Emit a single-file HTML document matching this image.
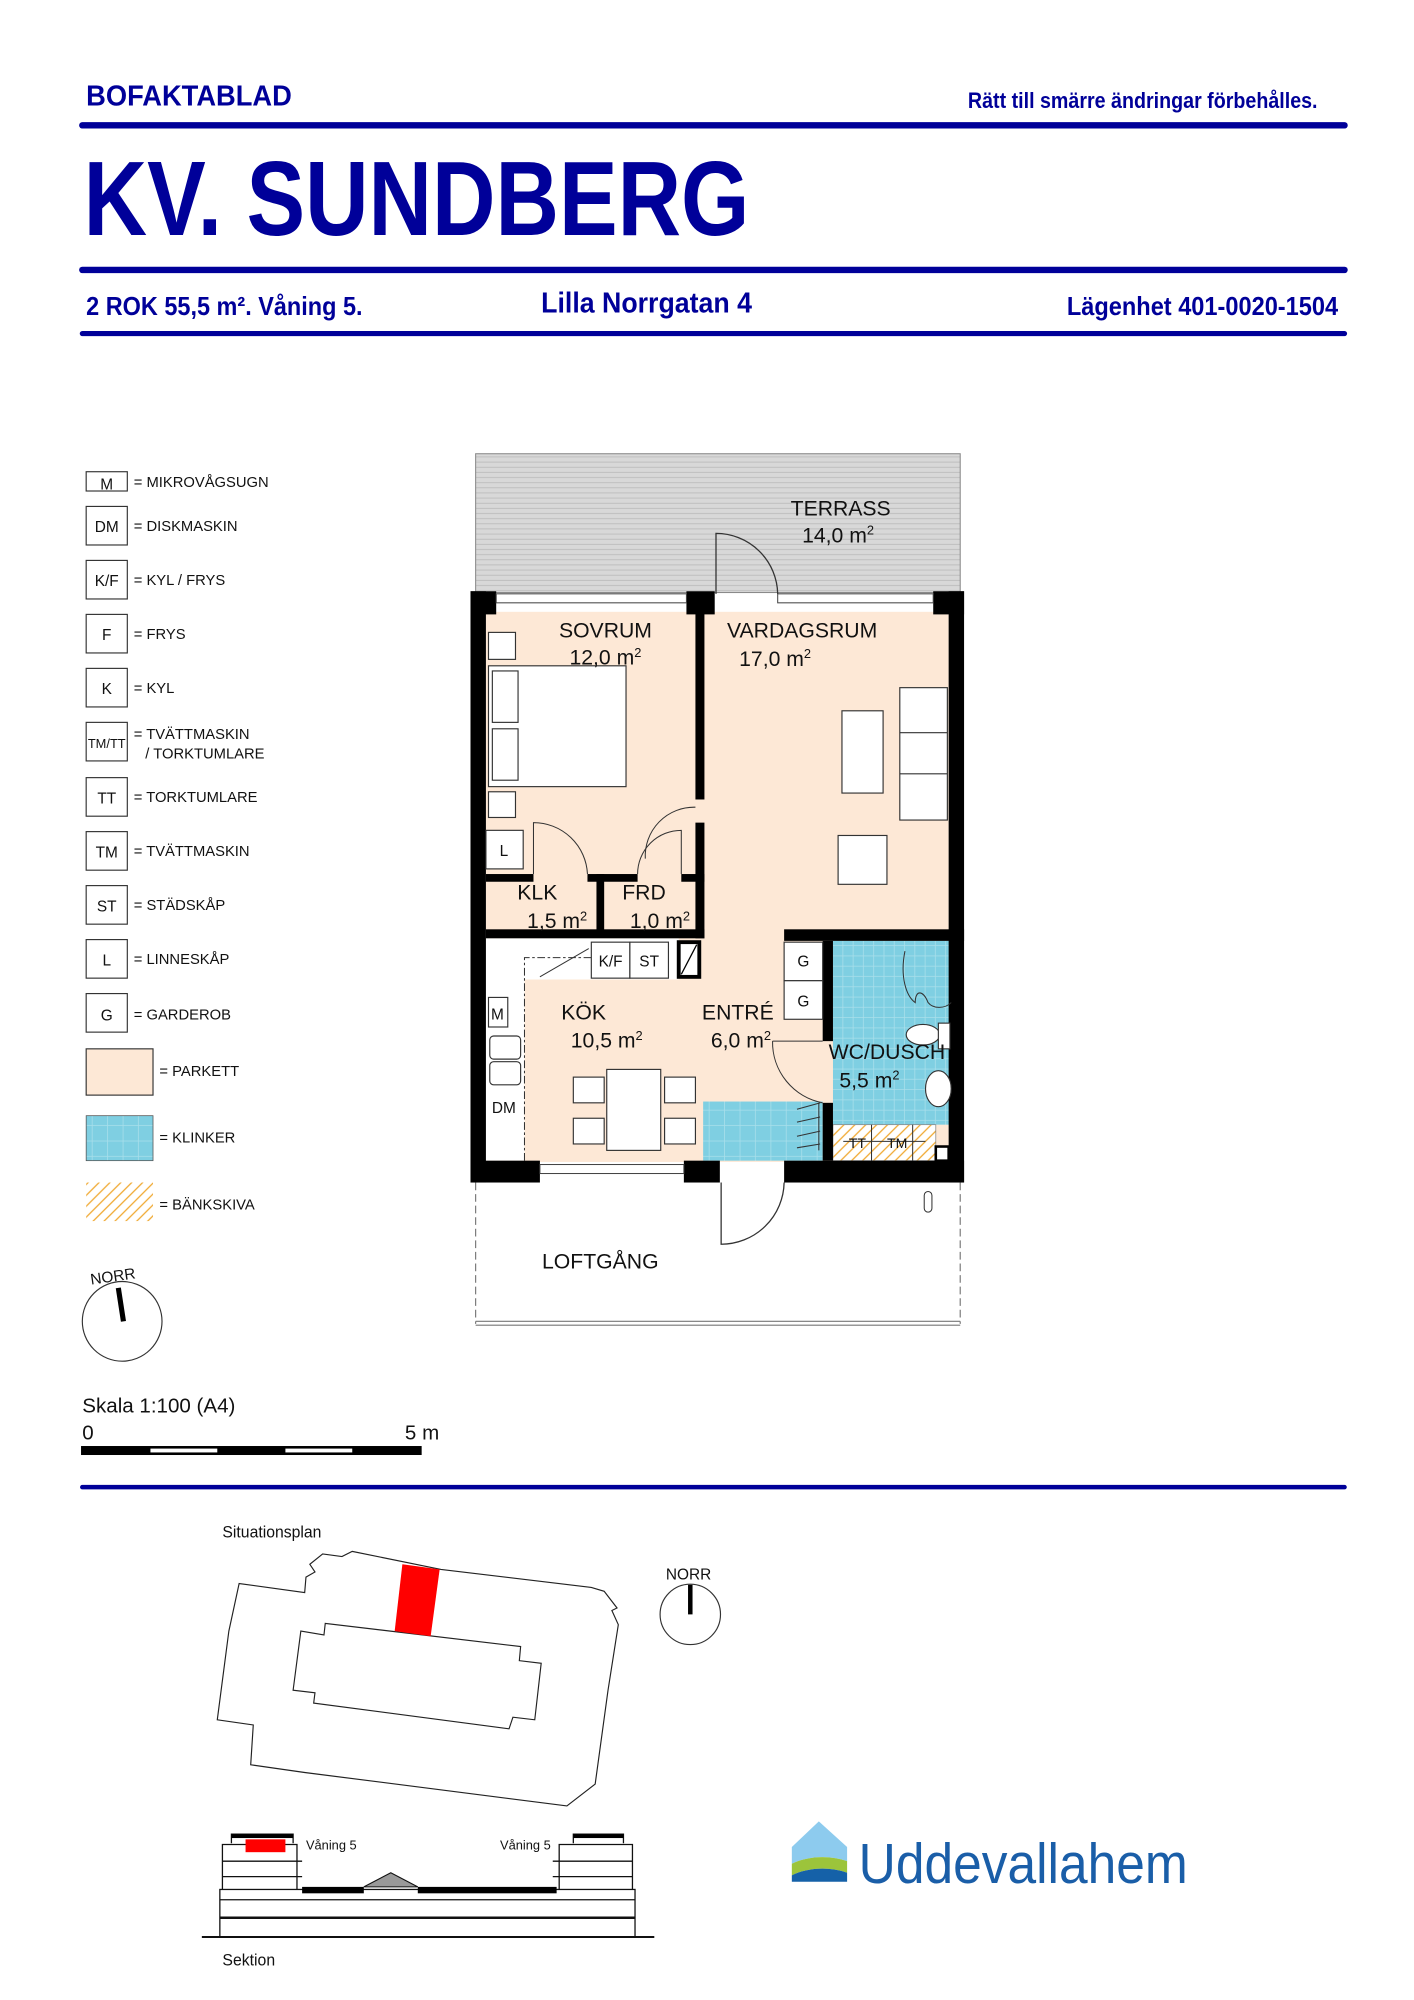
<!DOCTYPE html>
<html><head><meta charset="utf-8"><style>
html,body{margin:0;padding:0;background:#fff}
svg{display:block}
text{font-family:"Liberation Sans",sans-serif}
</style></head><body>
<svg width="1414" height="2000" viewBox="0 0 1100 1556" xmlns="http://www.w3.org/2000/svg">
<defs>
<pattern id="terr" width="10" height="4" patternUnits="userSpaceOnUse"><rect width="10" height="4" fill="#d8d8d8"/><line x1="0" y1="3.5" x2="10" y2="3.5" stroke="#b8b8b8" stroke-width="0.6"/></pattern>
<pattern id="klink" width="8" height="8" patternUnits="userSpaceOnUse"><rect width="8" height="8" fill="#7fcfe2"/><path d="M0 7.7H8M7.7 0V8" stroke="#a9dfeb" stroke-width="0.6"/></pattern>
<pattern id="klinkL" width="12" height="12" patternUnits="userSpaceOnUse"><rect width="12" height="12" fill="#7fcfe2"/><path d="M0 11.7H12M11.7 0V12" stroke="#a9dfeb" stroke-width="0.6"/></pattern>
<pattern id="hatch" width="6" height="6" patternUnits="userSpaceOnUse" patternTransform="rotate(-45)"><rect width="6" height="6" fill="#fff"/><line x1="0" y1="3" x2="6" y2="3" stroke="#f0a830" stroke-width="1"/></pattern>
</defs>
<g fill="#000099">
<text x="67" y="82" font-size="22" font-weight="bold" textLength="160" lengthAdjust="spacingAndGlyphs">BOFAKTABLAD</text>
<text x="753" y="84" font-size="17" font-weight="bold" textLength="272" lengthAdjust="spacingAndGlyphs">Rätt till smärre ändringar förbehålles.</text>
<text x="65" y="183" font-size="82" font-weight="bold" textLength="518" lengthAdjust="spacingAndGlyphs">KV. SUNDBERG</text>
<text x="67" y="245" font-size="20" font-weight="bold" textLength="215" lengthAdjust="spacingAndGlyphs">2 ROK 55,5 m². Våning 5.</text>
<text x="421" y="243" font-size="22" font-weight="bold" textLength="164" lengthAdjust="spacingAndGlyphs">Lilla Norrgatan 4</text>
<text x="830" y="245" font-size="20" font-weight="bold" textLength="211" lengthAdjust="spacingAndGlyphs">Lägenhet 401-0020-1504</text>
</g>
<g stroke="#000099" stroke-linecap="round">
<line x1="64" y1="97.5" x2="1046" y2="97.5" stroke-width="5"/>
<line x1="64" y1="210" x2="1046" y2="210" stroke-width="5"/>
<line x1="64" y1="259.5" x2="1046" y2="259.5" stroke-width="4"/>
<line x1="64" y1="1157" x2="1046" y2="1157" stroke-width="3.5"/>
</g>

<!-- FLOOR PLAN -->
<rect x="370" y="353" width="377" height="108" fill="url(#terr)" stroke="#888" stroke-width="0.8"/>
<rect x="378" y="476" width="360" height="428" fill="#fde8d6"/>
<!-- kitchen white counters -->
<rect x="378" y="730" width="30" height="173" fill="#fff"/>
<rect x="378" y="730" width="150" height="32" fill="#fff"/>
<rect x="408" y="730" width="52" height="32" fill="#fff"/>
<!-- klinker -->
<rect x="648" y="732" width="92" height="143" fill="url(#klink)"/>
<rect x="547" y="857" width="93" height="46" fill="url(#klinkL)"/>
<rect x="648" y="875" width="80" height="28" fill="url(#hatch)" stroke="#888" stroke-width="0.6"/>
<!-- walls -->
<g fill="#000">
<rect x="366" y="460" width="12" height="460"/>
<rect x="366" y="460" width="20" height="18"/>
<rect x="534" y="460" width="22" height="18"/>
<rect x="726" y="460" width="24" height="18"/>
<rect x="738" y="460" width="12" height="460"/>
<rect x="541" y="476" width="7" height="146"/>
<rect x="541" y="640" width="7" height="90"/>
<rect x="378" y="680" width="37" height="6"/>
<rect x="457" y="680" width="39" height="6"/>
<rect x="530" y="680" width="18" height="6"/>
<rect x="464" y="680" width="6" height="48"/>
<rect x="378" y="723" width="170" height="7"/>
<rect x="610" y="723" width="140" height="9"/>
<rect x="640" y="732" width="8" height="78"/>
<rect x="640" y="858" width="8" height="45"/>
<rect x="366" y="903" width="54" height="17"/>
<rect x="532" y="903" width="28" height="17"/>
<rect x="610" y="903" width="140" height="17"/>
</g>
<!-- windows -->
<g fill="#fff" stroke="#444" stroke-width="0.8">
<rect x="386" y="462" width="148" height="7"/>
<rect x="605" y="462" width="121" height="7"/>
<rect x="420" y="906" width="112" height="7"/>
</g>
<path d="M557 462V415A48 48 0 0 1 605 462" fill="none" stroke="#333" stroke-width="1"/>
<path d="M561 920V968A49 49 0 0 0 610 920" fill="none" stroke="#333" stroke-width="1"/>
<!-- loftgang -->
<g stroke="#777" stroke-width="0.9" fill="none">
<line x1="370" y1="920" x2="370" y2="1030" stroke-dasharray="6 3"/>
<line x1="747" y1="920" x2="747" y2="1030" stroke-dasharray="6 3"/>
<line x1="370" y1="1028" x2="747" y2="1028"/>
<line x1="370" y1="1031" x2="747" y2="1031"/>
</g>
<!-- furniture -->
<g fill="#fff" stroke="#333" stroke-width="0.9">
<rect x="380" y="492" width="21" height="21"/>
<rect x="380" y="518" width="107" height="94"/>
<rect x="383" y="522" width="20" height="40"/>
<rect x="383" y="567" width="20" height="40"/>
<rect x="380" y="616" width="21" height="20"/>
<rect x="378" y="646" width="29" height="30"/>
<rect x="655" y="553" width="32" height="64"/>
<rect x="700" y="535" width="37" height="103"/>
<line x1="700" y1="570" x2="737" y2="570"/><line x1="700" y1="602" x2="737" y2="602"/>
<rect x="652" y="650" width="38" height="38"/>
<rect x="460" y="733" width="30" height="28"/>
<rect x="490" y="733" width="30" height="28"/>
<rect x="610" y="733" width="30" height="30"/>
<rect x="610" y="763" width="30" height="30"/>
<rect x="472" y="832" width="42" height="63"/>
<rect x="446" y="838" width="24" height="20"/><rect x="446" y="870" width="24" height="20"/>
<rect x="517" y="838" width="24" height="20"/><rect x="517" y="870" width="24" height="20"/>
<rect x="380" y="776" width="15" height="23"/>
<rect x="381" y="806" width="24" height="18" rx="3"/><rect x="381" y="826" width="24" height="18" rx="3"/>
<ellipse cx="718" cy="805" rx="13" ry="8"/><rect x="730" y="796" width="9" height="20"/>
<ellipse cx="730" cy="847" rx="10" ry="14"/>
</g>
<rect x="528" y="733" width="16" height="27" fill="#fff" stroke="#000" stroke-width="3"/>
<line x1="530" y1="758" x2="542" y2="735" stroke="#000" stroke-width="1"/>
<rect x="728" y="892" width="10" height="11" fill="#fff" stroke="#000" stroke-width="2"/>
<g fill="none" stroke="#333" stroke-width="0.8">
<path d="M408 903V745H460" stroke-dasharray="6 2 2 2"/>
<path d="M420 760L458 738"/>
<path d="M415 680V640A42 42 0 0 1 457 680"/>
<path d="M496 680A34 34 0 0 1 530 646V680"/>
<path d="M502 668A38 38 0 0 1 541 628"/>
<path d="M601 810A48 48 0 0 0 640 858"/>
<path d="M601 810H640"/>
<path d="M620 863L638 858M620 873L638 869M620 884L638 880M620 893L638 890M637 858V895"/>
<path d="M704 740C700 760 705 775 712 780C712 770 718 770 722 780C726 785 735 785 740 780"/>
<line x1="656" y1="888" x2="720" y2="888"/>
<line x1="678" y1="875" x2="678" y2="903"/>
<line x1="710" y1="875" x2="710" y2="903"/>
<rect x="719" y="927" width="6" height="16" rx="3"/>
</g>
<g font-size="16.5" fill="#111">
<text x="654" y="401" text-anchor="middle">TERRASS</text>
<text x="624" y="422">14,0 m<tspan font-size="10" dy="-6">2</tspan></text>
<text x="471" y="496" text-anchor="middle">SOVRUM</text>
<text x="443" y="517">12,0 m<tspan font-size="10" dy="-6">2</tspan></text>
<text x="624" y="496" text-anchor="middle">VARDAGSRUM</text>
<text x="575" y="518">17,0 m<tspan font-size="10" dy="-6">2</tspan></text>
<text x="418" y="700" text-anchor="middle">KLK</text>
<text x="410" y="722">1,5 m<tspan font-size="10" dy="-6">2</tspan></text>
<text x="501" y="700" text-anchor="middle">FRD</text>
<text x="490" y="722">1,0 m<tspan font-size="10" dy="-6">2</tspan></text>
<text x="454" y="793" text-anchor="middle">KÖK</text>
<text x="444" y="815">10,5 m<tspan font-size="10" dy="-6">2</tspan></text>
<text x="574" y="793" text-anchor="middle">ENTRÉ</text>
<text x="553" y="815">6,0 m<tspan font-size="10" dy="-6">2</tspan></text>
<text x="690" y="824" text-anchor="middle">WC/DUSCH</text>
<text x="653" y="846">5,5 m<tspan font-size="10" dy="-6">2</tspan></text>
<text x="467" y="987" text-anchor="middle">LOFTGÅNG</text>
</g>
<g font-size="12" fill="#111" text-anchor="middle">
<text x="392" y="666">L</text><text x="475" y="752">K/F</text><text x="505" y="752">ST</text>
<text x="625" y="752">G</text><text x="625" y="783">G</text>
<text x="387" y="793">M</text><text x="392" y="866">DM</text>
<text x="667" y="893" font-size="11">TT</text><text x="698" y="893" font-size="11">TM</text>
</g>

<!-- LEGEND -->
<g fill="#fff" stroke="#333" stroke-width="0.9">
<rect x="67" y="367" width="32" height="15"/>
<rect x="67" y="394" width="32" height="30"/>
<rect x="67" y="436" width="32" height="30"/>
<rect x="67" y="478" width="32" height="30"/>
<rect x="67" y="520" width="32" height="30"/>
<rect x="67" y="562" width="32" height="30"/>
<rect x="67" y="605" width="32" height="30"/>
<rect x="67" y="647" width="32" height="30"/>
<rect x="67" y="689" width="32" height="30"/>
<rect x="67" y="731" width="32" height="30"/>
<rect x="67" y="773" width="32" height="30"/>
</g>
<rect x="67" y="816" width="52" height="36" fill="#fde8d6" stroke="#333" stroke-width="0.9"/>
<rect x="67" y="868" width="52" height="35" fill="url(#klinkL)" stroke="#555" stroke-width="0.6"/>
<rect x="67" y="920" width="52" height="30" fill="url(#hatch)"/>
<g font-size="12" fill="#111" text-anchor="middle">
<text x="83" y="381">M</text><text x="83" y="414">DM</text><text x="83" y="456">K/F</text>
<text x="83" y="498">F</text><text x="83" y="540">K</text><text x="83" y="582" font-size="10">TM/TT</text>
<text x="83" y="625">TT</text><text x="83" y="667">TM</text><text x="83" y="709">ST</text>
<text x="83" y="751">L</text><text x="83" y="794">G</text>
</g>
<g font-size="11.5" fill="#111">
<text x="104" y="379">= MIKROVÅGSUGN</text>
<text x="104" y="413">= DISKMASKIN</text>
<text x="104" y="455">= KYL / FRYS</text>
<text x="104" y="497">= FRYS</text>
<text x="104" y="539">= KYL</text>
<text x="104" y="575">= TVÄTTMASKIN</text>
<text x="113" y="590">/ TORKTUMLARE</text>
<text x="104" y="624">= TORKTUMLARE</text>
<text x="104" y="666">= TVÄTTMASKIN</text>
<text x="104" y="708">= STÄDSKÅP</text>
<text x="104" y="750">= LINNESKÅP</text>
<text x="104" y="793">= GARDEROB</text>
<text x="124" y="837">= PARKETT</text>
<text x="124" y="889">= KLINKER</text>
<text x="124" y="941">= BÄNKSKIVA</text>
</g>
<text x="70" y="997" font-size="12" fill="#111" transform="rotate(-8 88 992)">NORR</text>
<circle cx="95" cy="1028" r="31" fill="none" stroke="#333" stroke-width="0.9"/>
<line x1="92" y1="1002" x2="96" y2="1028" stroke="#000" stroke-width="4"/>
<g font-size="16" fill="#111">
<text x="64" y="1099">Skala 1:100 (A4)</text>
<text x="64" y="1120">0</text>
<text x="315" y="1120">5 m</text>
</g>
<rect x="63" y="1125" width="265" height="7" fill="#000"/>
<rect x="117" y="1127" width="52" height="3" fill="#fff"/>
<rect x="222" y="1127" width="52" height="3" fill="#fff"/>

<!-- SITUATIONSPLAN -->
<text x="173" y="1196" font-size="13" fill="#111" textLength="77" lengthAdjust="spacingAndGlyphs">Situationsplan</text>
<polygon points="251,1209 241,1217 245,1223 238,1227 237,1239 186,1232 178,1269 169,1338 197,1342 195,1373 237,1379 441,1405 463,1388 473,1315 481,1264 476,1253 480,1251 470,1238 460,1235 343,1221 274,1207 266,1211" fill="#fff" stroke="#222" stroke-width="0.9"/>
<polygon points="253,1263 252,1272 234,1269 228,1315 245,1317 244,1325 396,1345 399,1336 416,1338 421,1294 404,1292 405,1281" fill="#fff" stroke="#222" stroke-width="0.9"/>
<polygon points="313,1217 342,1221 335,1273 307,1269" fill="#f00"/>
<text x="518" y="1229" font-size="12" fill="#111">NORR</text>
<circle cx="537" cy="1256" r="23.5" fill="none" stroke="#333" stroke-width="0.9"/>
<line x1="537" y1="1233" x2="537" y2="1256" stroke="#000" stroke-width="3.5"/>

<!-- SEKTION -->
<g fill="none" stroke="#111" stroke-width="1">
<line x1="157" y1="1507" x2="509" y2="1507" stroke-width="1.5"/>
<rect x="171" y="1470" width="323" height="37"/>
<line x1="171" y1="1478" x2="494" y2="1478"/>
<line x1="171" y1="1492" x2="494" y2="1492" stroke-width="2"/>
<path d="M173 1470V1435H231V1470M173 1448H235M173 1460H235"/>
<path d="M180 1434V1427H228V1434"/>
<path d="M435 1470V1435H492V1470M430 1448H492M430 1460H492"/>
<path d="M446 1434V1427H485V1434"/>
</g>
<rect x="235" y="1468" width="48" height="5" fill="#000"/>
<rect x="325" y="1468" width="108" height="5" fill="#000"/>
<polygon points="283,1468 304,1457 325,1468" fill="#999" stroke="#111" stroke-width="0.8"/>
<rect x="180" y="1427" width="48" height="3" fill="#000"/>
<rect x="446" y="1427" width="39" height="3" fill="#000"/>
<rect x="191" y="1431" width="31" height="10" fill="#f00"/>
<text x="238" y="1439" font-size="10" fill="#111">Våning 5</text>
<text x="389" y="1439" font-size="10" fill="#111">Våning 5</text>
<text x="173" y="1529" font-size="13" fill="#111" textLength="41" lengthAdjust="spacingAndGlyphs">Sektion</text>

<!-- LOGO -->
<path d="M616 1437L637 1417L659 1437V1448C645 1443 628 1444 616 1450Z" fill="#8dcbee"/>
<path d="M616 1450C628 1444 645 1443 659 1448V1457C645 1452 628 1453 616 1459Z" fill="#9cc43b"/>
<path d="M616 1459C628 1453 645 1452 659 1457V1464H616Z" fill="#1561a8"/>
<text x="668" y="1465" font-size="44" fill="#1a5ea8" textLength="256" lengthAdjust="spacingAndGlyphs">Uddevallahem</text>
</svg>
</body></html>
